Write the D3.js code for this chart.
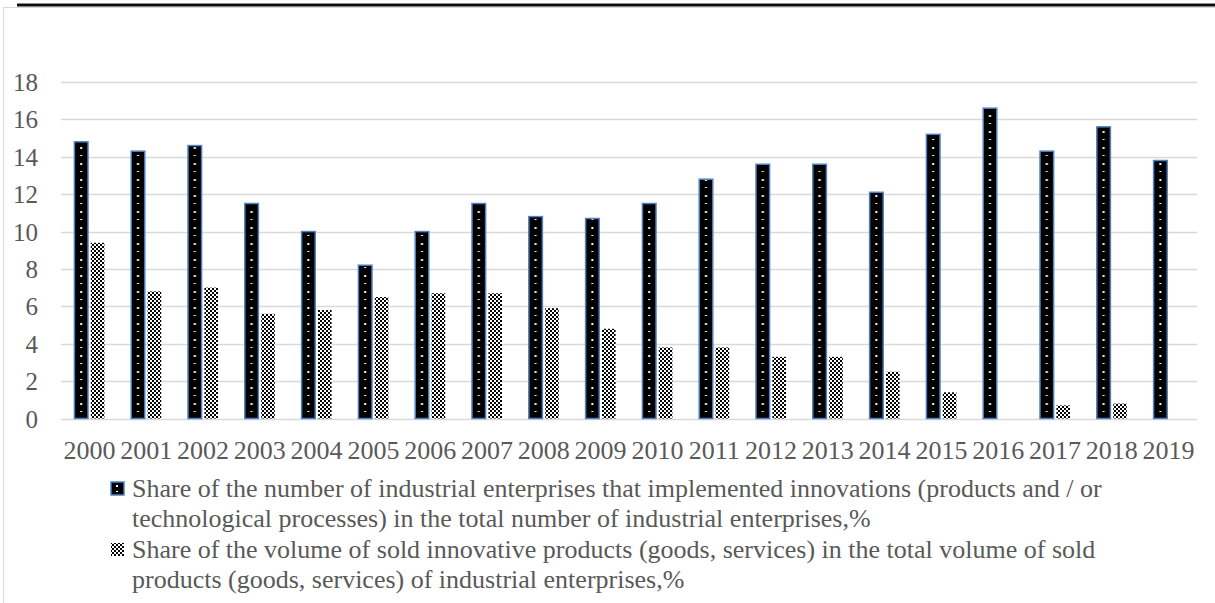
<!DOCTYPE html>
<html>
<head>
<meta charset="utf-8">
<script src="https://cdn.jsdelivr.net/npm/d3@7"></script>
<style>
  html, body { margin: 0; padding: 0; background: #fff; }
  svg { display: block; }
  text { font-family: "Liberation Serif", "Times New Roman", serif; fill: #595959; }
</style>
</head>
<body>
<svg id="chart" width="1215" height="603"></svg>
<script>
// Years on the category axis
const years = ["2000","2001","2002","2003","2004","2005","2006","2007","2008","2009",
               "2010","2011","2012","2013","2014","2015","2016","2017","2018","2019"];

// Share of industrial enterprises that implemented innovations, %
const shareEnterprises = [14.8, 14.3, 14.6, 11.5, 10.0, 8.2, 10.0, 11.5, 10.8, 10.7,
                          11.5, 12.8, 13.6, 13.6, 12.1, 15.2, 16.6, 14.3, 15.6, 13.8];

// Share of sold innovative products in total sold products, %
const shareProducts = [9.4, 6.8, 7.0, 5.6, 5.8, 6.5, 6.7, 6.7, 5.9, 4.8,
                       3.8, 3.8, 3.3, 3.3, 2.5, 1.4, null, 0.7, 0.8, null];

// Value-axis ticks
const yTicks = [0, 2, 4, 6, 8, 10, 12, 14, 16, 18];

// Legend entries, already broken into lines
const legendEnterprises = [
  "Share of the number of industrial enterprises that implemented innovations (products and / or",
  "technological processes) in the total number of industrial enterprises,%"
];
const legendProducts = [
  "Share of the volume of sold innovative products (goods, services) in the total volume of sold",
  "products (goods, services) of industrial enterprises,%"
];

const svg = d3.select("#chart");
const W = 1215, H = 603;
const plot = { left: 61, right: 1197, top: 82, bottom: 418.5 };
const serif = "'Liberation Serif', 'Times New Roman', serif";

// Document rule above the chart and the chart frame
svg.append("rect").attr("x", 17).attr("y", 3).attr("width", W - 17).attr("height", 1)
  .attr("fill", "#8a8a8a");
svg.append("rect").attr("x", 17).attr("y", 4).attr("width", W - 17).attr("height", 2.5)
  .attr("fill", "#0d0d0d");
svg.append("path")
  .attr("d", `M3.5,${H} V7.5 H${W}`)
  .attr("fill", "none").attr("stroke", "#d9d9d9").attr("stroke-width", 1);

// Scales
const x = d3.scaleBand().domain(years).range([plot.left, plot.right]).padding(0);
const y = d3.scaleLinear().domain([0, 18]).range([plot.bottom, plot.top]);
const step = x.step();
const inner = d3.scaleBand().domain(["a", "b"])
  .range([step / 2 - 15, step / 2 + 15]).paddingInner(0.17);
const bw = inner.bandwidth();

// Fill patterns
const defs = svg.append("defs");

// Black fill with a column of small white dots and dashes
const pDots = defs.append("pattern").attr("id", "dots")
  .attr("patternUnits", "userSpaceOnUse")
  .attr("x", plot.left).attr("y", 0)
  .attr("width", step).attr("height", 16);
pDots.append("rect").attr("width", step).attr("height", 16).attr("fill", "#000");
const dotX = inner("a") + bw / 2 - 1;
pDots.append("rect").attr("x", dotX).attr("y", 3).attr("width", 2).attr("height", 2).attr("fill", "#fff");
pDots.append("rect").attr("x", dotX).attr("y", 11).attr("width", 2).attr("height", 1).attr("fill", "#fff");

// Fine black/white checker
const pCheck = defs.append("pattern").attr("id", "checker")
  .attr("patternUnits", "userSpaceOnUse")
  .attr("width", 4).attr("height", 4);
pCheck.append("rect").attr("width", 4).attr("height", 4).attr("fill", "#fff");
pCheck.append("rect").attr("x", 0).attr("y", 0).attr("width", 2).attr("height", 2).attr("fill", "#000");
pCheck.append("rect").attr("x", 2).attr("y", 2).attr("width", 2).attr("height", 2).attr("fill", "#000");

// Gridlines
svg.append("g")
  .selectAll("line").data(yTicks).join("line")
  .attr("x1", plot.left).attr("x2", plot.right)
  .attr("y1", d => Math.round(y(d)) + 0.5).attr("y2", d => Math.round(y(d)) + 0.5)
  .attr("stroke", "#d9d9d9").attr("stroke-width", 1.5);

// Y axis labels
const yAxis = d3.axisLeft(y).tickValues(yTicks).tickSize(0).tickPadding(0);
const gy = svg.append("g").attr("transform", "translate(38,0)").call(yAxis);
gy.select(".domain").remove();
gy.selectAll("text").attr("font-size", 25).attr("dy", "0.34em")
  .style("font-family", serif).attr("fill", "#595959");

// Bars
const rows = years.map((yr, i) => ({ yr, a: shareEnterprises[i], b: shareProducts[i] }));

svg.append("g").selectAll("rect")
  .data(rows).join("rect")
  .attr("x", d => x(d.yr) + inner("a"))
  .attr("y", d => y(d.a))
  .attr("width", bw)
  .attr("height", d => y(0) - y(d.a))
  .attr("fill", "url(#dots)")
  .attr("stroke", "#4f81c4").attr("stroke-width", 1.5);

svg.append("g").selectAll("rect")
  .data(rows.filter(d => d.b != null)).join("rect")
  .attr("x", d => x(d.yr) + inner("b"))
  .attr("y", d => y(d.b))
  .attr("width", bw)
  .attr("height", d => y(0) - y(d.b))
  .attr("fill", "url(#checker)");

// X axis labels
const xAxis = d3.axisBottom(x).tickSize(0).tickPadding(0);
const gx = svg.append("g").attr("transform", `translate(0,${plot.bottom})`).call(xAxis);
gx.select(".domain").remove();
gx.selectAll("text").attr("font-size", 26).attr("y", 40).attr("dy", 0)
  .style("font-family", serif).attr("fill", "#595959");

// Legend
const legend = svg.append("g");
const legendItems = [
  { lines: legendEnterprises, fill: "#000", stroke: "#4f81c4", top: 482, dots: true },
  { lines: legendProducts, fill: "url(#checker)", stroke: "none", top: 543, dots: false }
];
legendItems.forEach(item => {
  legend.append("rect").attr("x", 111).attr("y", item.top)
    .attr("width", 13).attr("height", 13)
    .attr("fill", item.fill).attr("stroke", item.stroke).attr("stroke-width", 1.5);
  if (item.dots) {
    legend.append("rect").attr("x", 116).attr("y", item.top + 3).attr("width", 2).attr("height", 2).attr("fill", "#fff");
    legend.append("rect").attr("x", 116).attr("y", item.top + 9).attr("width", 2).attr("height", 1).attr("fill", "#fff");
  }
  item.lines.forEach((ln, j) => {
    legend.append("text")
      .attr("x", 132).attr("y", item.top + 15 + j * 30)
      .attr("font-size", 26)
      .text(ln);
  });
});
</script>
</body>
</html>
